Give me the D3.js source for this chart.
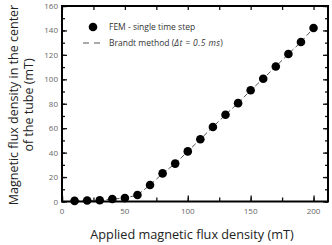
<!DOCTYPE html>
<html>
<head>
<meta charset="utf-8">
<script src="https://cdn.jsdelivr.net/npm/d3@7"></script>
<style>
  body { margin: 0; background: #fff; }
  svg text { font-family: "Open Sans", sans-serif; }
</style>
</head>
<body>
<svg id="chart" width="332" height="245"></svg>
<script>
const applied = [10, 20, 30, 40, 50, 60, 70, 80, 90, 100, 110, 120, 130, 140, 150, 160, 170, 180, 190, 200];
const femValues = [0.5, 0.8, 1, 2, 2.8, 5.3, 13.5, 23, 31, 41, 51, 61, 71, 80.5, 91, 100.5, 110.5, 120.7, 130.5, 142];
const brandtValues = [0.5, 0.8, 1, 2, 2.8, 5.3, 13.5, 23, 31, 41, 51, 61, 71, 80.5, 91, 100.5, 110.5, 120.7, 130.5, 142];
const xTicks = [0, 50, 100, 150, 200];
const yTicks = [0, 20, 40, 60, 80, 100, 120, 140, 160];

const svg = d3.select('#chart');
const mLeft = 62, mRight = 328, mTop = 6, mBottom = 201.5;

const x = d3.scaleLinear().domain([0, 211.5]).range([mLeft, mRight]);
const y = d3.scaleLinear().domain([0, 160]).range([mBottom, mTop]);

// inward ticks on all four sides
const tickColor = '#111';
function ticks(axis, tickVals, size) {
  return axis.tickValues(tickVals).tickSize(size).tickFormat('');
}
const xMinor = d3.range(0, 211, 25);
const yMinor = d3.range(0, 161, 10);

svg.append('g').attr('transform', `translate(0,${mBottom})`).call(ticks(d3.axisTop(x), xMinor, 4));
svg.append('g').attr('transform', `translate(0,${mTop})`).call(ticks(d3.axisBottom(x), xMinor, 4));
svg.append('g').attr('transform', `translate(${mLeft},0)`).call(ticks(d3.axisRight(y), yMinor, 3));
svg.append('g').attr('transform', `translate(${mRight},0)`).call(ticks(d3.axisLeft(y), yMinor, 3));
svg.append('g').attr('transform', `translate(0,${mBottom})`).call(ticks(d3.axisTop(x), xTicks, 6));
svg.append('g').attr('transform', `translate(${mLeft},0)`).call(ticks(d3.axisRight(y), yTicks, 5));
svg.append('g').attr('transform', `translate(${mRight},0)`).call(ticks(d3.axisLeft(y), yTicks, 5));
svg.selectAll('.domain').remove();
svg.selectAll('.tick line').attr('stroke', tickColor).attr('stroke-width', 1.3);

// tick labels
svg.selectAll('.xlab').data(xTicks).enter().append('text')
  .attr('x', d => x(d)).attr('y', mBottom + 12)
  .attr('text-anchor', 'middle').attr('font-size', 8).attr('fill', '#666')
  .text(d => d);
svg.selectAll('.ylab').data(yTicks).enter().append('text')
  .attr('x', mLeft - 4).attr('y', d => y(d) + 3)
  .attr('text-anchor', 'end').attr('font-size', 8).attr('fill', '#666')
  .text(d => d);

// Brandt dashed line
const line = d3.line().x((d, i) => x(applied[i])).y(d => y(d));
svg.append('path').datum(brandtValues)
  .attr('d', line).attr('fill', 'none')
  .attr('stroke', '#555').attr('stroke-width', 1).attr('stroke-dasharray', '5,3');

// FEM points
svg.selectAll('.pt').data(femValues).enter().append('circle')
  .attr('cx', (d, i) => x(applied[i])).attr('cy', d => y(d))
  .attr('r', 4.3).attr('fill', '#000');

// frame
svg.append('rect').attr('x', mLeft).attr('y', mTop)
  .attr('width', mRight - mLeft).attr('height', mBottom - mTop)
  .attr('fill', 'none').attr('stroke', '#000').attr('stroke-width', 2);

// legend
svg.append('circle').attr('cx', 93).attr('cy', 27).attr('r', 4.3).attr('fill', '#000');
svg.append('text').attr('x', 109).attr('y', 30).attr('font-size', 8.5).attr('fill', '#333')
  .text('FEM - single time step');
svg.append('line').attr('x1', 83).attr('x2', 101).attr('y1', 43).attr('y2', 43)
  .attr('stroke', '#555').attr('stroke-width', 1).attr('stroke-dasharray', '6,5');
const lt = svg.append('text').attr('x', 109).attr('y', 46).attr('font-size', 8.5).attr('fill', '#333');
lt.append('tspan').text('Brandt method (');
lt.append('tspan').attr('font-style', 'italic').attr('letter-spacing', 0.4).text('\u0394t = 0.5 ms');
lt.append('tspan').text(')');

// axis titles
svg.append('text').attr('x', 192).attr('y', 239).attr('text-anchor', 'middle')
  .attr('font-size', 12.7).attr('fill', '#222').text('Applied magnetic flux density (mT)');
const yt = svg.append('text').attr('transform', 'translate(0,105) rotate(-90)')
  .attr('text-anchor', 'middle').attr('font-size', 12.5).attr('fill', '#222');
yt.append('tspan').attr('x', 0).attr('y', 17.5).text('Magnetic flux density in the center');
yt.append('tspan').attr('x', 0).attr('y', 33).text('of the tube (mT)');
</script>
</body>
</html>
